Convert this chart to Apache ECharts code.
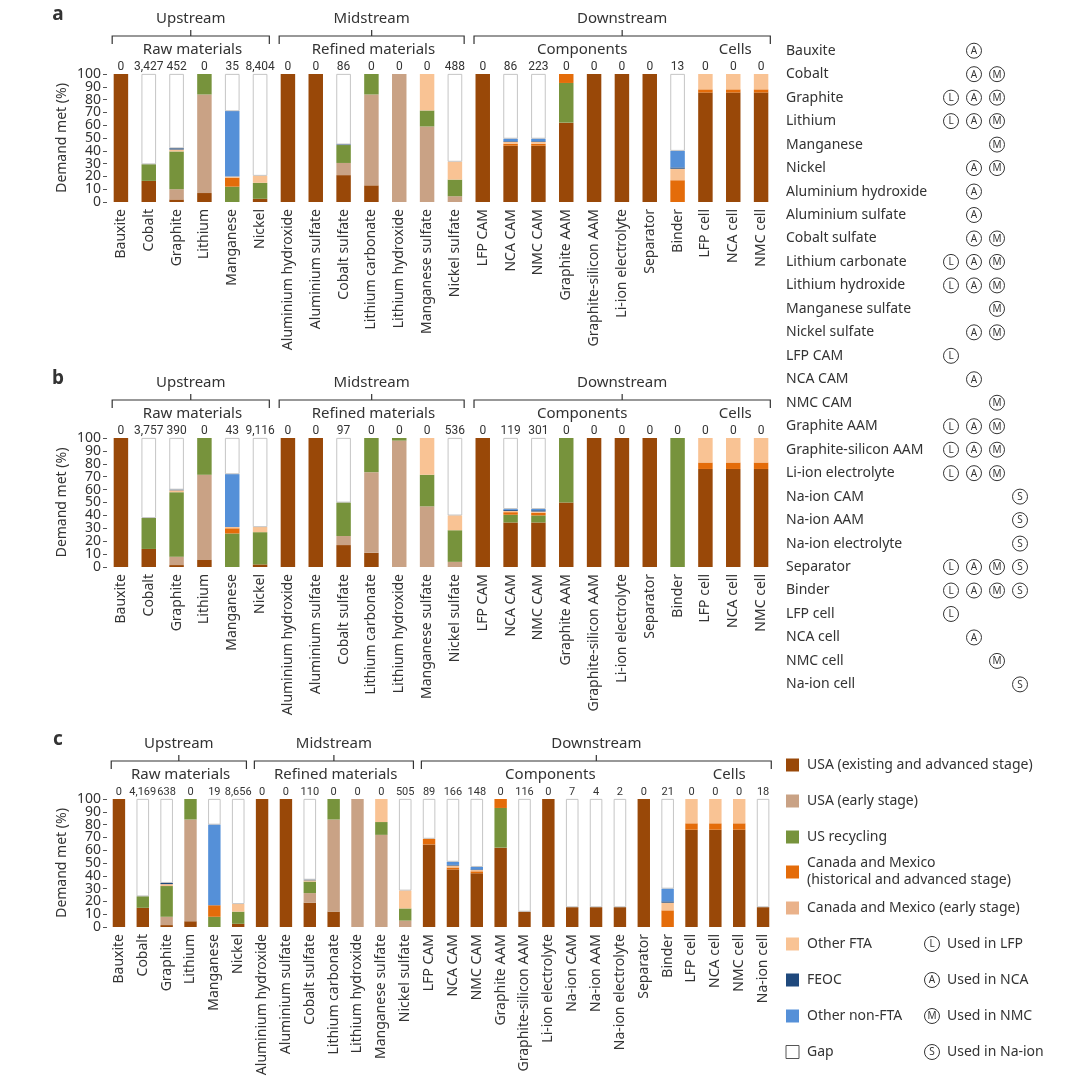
<!DOCTYPE html>
<html>
<head>
<meta charset="utf-8">
<script src="https://cdn.jsdelivr.net/npm/echarts@6/dist/echarts.min.js"></script>
<style>
  html, body { margin: 0; padding: 0; background: #fff; }
  #chart { width: 1080px; height: 1089px; }
</style>
</head>
<body>
<div id="chart"></div>
<script>
  // categories
  var catsAB = ['Bauxite', 'Cobalt', 'Graphite', 'Lithium', 'Manganese', 'Nickel',
    'Aluminium hydroxide', 'Aluminium sulfate', 'Cobalt sulfate', 'Lithium carbonate', 'Lithium hydroxide',
    'Manganese sulfate', 'Nickel sulfate', 'LFP CAM', 'NCA CAM', 'NMC CAM', 'Graphite AAM',
    'Graphite-silicon AAM', 'Li-ion electrolyte', 'Separator', 'Binder', 'LFP cell', 'NCA cell', 'NMC cell'];
  var catsC = ['Bauxite', 'Cobalt', 'Graphite', 'Lithium', 'Manganese', 'Nickel',
    'Aluminium hydroxide', 'Aluminium sulfate', 'Cobalt sulfate', 'Lithium carbonate', 'Lithium hydroxide',
    'Manganese sulfate', 'Nickel sulfate', 'LFP CAM', 'NCA CAM', 'NMC CAM', 'Graphite AAM',
    'Graphite-silicon AAM', 'Li-ion electrolyte', 'Na-ion CAM', 'Na-ion AAM', 'Na-ion electrolyte',
    'Separator', 'Binder', 'LFP cell', 'NCA cell', 'NMC cell', 'Na-ion cell'];
  var yTicks = [0, 10, 20, 30, 40, 50, 60, 70, 80, 90, 100];

  // gap counts above the bars
  var countsA = ['0', '3,427', '452', '0', '35', '8,404', '0', '0', '86', '0', '0', '0', '488', '0', '86', '223', '0', '0', '0', '0', '13', '0', '0', '0'];
  var countsB = ['0', '3,757', '390', '0', '43', '9,116', '0', '0', '97', '0', '0', '0', '536', '0', '119', '301', '0', '0', '0', '0', '0', '0', '0', '0'];
  var countsC = ['0', '4,169', '638', '0', '19', '8,656', '0', '0', '110', '0', '0', '0', '505', '89', '166', '148', '0', '116', '0', '7', '4', '2', '0', '21', '0', '0', '0', '18'];

  // panel a (% of demand met)
  var usaA       = [100, 16.5, 2, 7, 0, 2.5, 100, 100, 21, 13, 0, 0, 0, 100, 44, 44, 62, 100, 100, 100, 0, 85.5, 85.5, 85.5];
  var usaEarlyA  = [0, 0, 8, 77, 0, 0, 0, 0, 9.5, 71, 100, 59, 4.5, 0, 0, 0, 0, 0, 0, 0, 0, 0, 0, 0];
  var recycA     = [0, 13, 29.5, 16, 12, 12.5, 0, 0, 14, 16, 0, 12.5, 13, 0, 0, 0, 31, 0, 0, 0, 0, 0, 0, 0];
  var cmA        = [0, 0, 0, 0, 7, 0, 0, 0, 0, 0, 0, 0, 0, 0, 1.5, 1.5, 7, 0, 0, 0, 17, 2.5, 2.5, 2.5];
  var cmEarlyA   = [0, 0, 0, 0, 0, 0, 0, 0, 0, 0, 0, 0, 0, 0, 0, 0, 0, 0, 0, 0, 0, 0, 0, 0];
  var otherFtaA  = [0, 0, 1.5, 0, 1, 5.5, 0, 0, 0, 0, 0, 28.5, 14, 0, 1.5, 1.5, 0, 0, 0, 0, 9, 12, 12, 12];
  var feocA      = [0, 0, 1, 0, 0, 0, 0, 0, 0.5, 0, 0, 0, 0, 0, 0.5, 0.5, 0, 0, 0, 0, 1, 0, 0, 0];
  var nonFtaA    = [0, 0, 0, 0, 51, 0, 0, 0, 0, 0, 0, 0, 0, 0, 2, 2, 0, 0, 0, 0, 13, 0, 0, 0];
  var gapA       = [0, 70.5, 58, 0, 29, 79.5, 0, 0, 55, 0, 0, 0, 68.5, 0, 50.5, 50.5, 0, 0, 0, 0, 60, 0, 0, 0];

  // panel b
  var usaB       = [100, 14, 1.5, 5.5, 0, 2, 100, 100, 17, 11, 0, 0, 0, 100, 34.5, 34.5, 50, 100, 100, 100, 0, 76, 76, 76];
  var usaEarlyB  = [0, 0, 6.5, 66, 0, 0, 0, 0, 7, 62.5, 98, 47, 4, 0, 0, 0, 0, 0, 0, 0, 0, 0, 0, 0];
  var recycB     = [0, 24, 50, 28.5, 26, 25, 0, 0, 26, 26.5, 2, 24.5, 24.5, 0, 6, 5.5, 50, 0, 0, 0, 100, 0, 0, 0];
  var cmB        = [0, 0, 0, 0, 4, 0, 0, 0, 0, 0, 0, 0, 0, 0, 2, 2, 0, 0, 0, 0, 0, 5, 5, 5];
  var cmEarlyB   = [0, 0, 0, 0, 0, 0, 0, 0, 0, 0, 0, 0, 0, 0, 0, 0, 0, 0, 0, 0, 0, 0, 0, 0];
  var otherFtaB  = [0, 0, 1.5, 0, 1, 4, 0, 0, 0, 0, 0, 28.5, 11.5, 0, 1, 1, 0, 0, 0, 0, 0, 19, 19, 19];
  var feocB      = [0, 0, 0.5, 0, 0, 0, 0, 0, 0, 0, 0, 0, 0, 0, 0.8, 1, 0, 0, 0, 0, 0, 0, 0, 0];
  var nonFtaB    = [0, 0, 0, 0, 41, 0, 0, 0, 0, 0, 0, 0, 0, 0, 0.7, 1, 0, 0, 0, 0, 0, 0, 0, 0];
  var gapB       = [0, 62, 40, 0, 28, 69, 0, 0, 50, 0, 0, 0, 60, 0, 55, 55, 0, 0, 0, 0, 0, 0, 0, 0];

  // panel c
  var usaC       = [100, 15, 1.5, 4.5, 0, 2.5, 100, 100, 19, 12, 0, 0, 0, 64.5, 45, 42, 62, 12, 100, 15.5, 15.5, 15.5, 100, 0, 76, 76, 76, 15.5];
  var usaEarlyC  = [0, 0, 6.5, 79.5, 0, 0, 0, 0, 7.5, 72, 100, 72, 5, 0, 0, 0, 0, 0, 0, 0, 0, 0, 0, 0, 0, 0, 0, 0];
  var recycC     = [0, 9, 24, 16, 8, 9.5, 0, 0, 9, 16, 0, 10, 9.5, 0, 0, 0, 31, 0, 0, 0, 0, 0, 0, 0, 0, 0, 0, 0];
  var cmC        = [0, 0, 0, 0, 9, 0, 0, 0, 0, 0, 0, 0, 0, 4.5, 1.5, 1.5, 7, 0, 0, 0, 0, 0, 0, 13, 5, 5, 5, 0];
  var cmEarlyC   = [0, 0, 0, 0, 0, 0, 0, 0, 0, 0, 0, 0, 0, 0, 0, 0, 0, 0, 0, 0, 0, 0, 0, 0, 0, 0, 0, 0];
  var otherFtaC  = [0, 0, 1.5, 0, 0, 6, 0, 0, 1, 0, 0, 18, 14, 0, 1.5, 1, 0, 0, 0, 0, 0, 0, 0, 6, 19, 19, 19, 0];
  var feocC      = [0, 0, 1, 0, 0, 0, 0, 0, 0.5, 0, 0, 0, 0, 0, 0.5, 0.5, 0, 0, 0, 0, 0, 0, 0, 1, 0, 0, 0, 0];
  var nonFtaC    = [0, 0, 0, 0, 63, 0, 0, 0, 0, 0, 0, 0, 0, 0, 2.5, 2, 0, 0, 0, 0, 0, 0, 0, 10, 0, 0, 0, 0];
  var gapC       = [0, 76, 65.5, 0, 20, 82, 0, 0, 63, 0, 0, 0, 71.5, 31, 49, 53, 0, 88, 0, 84.5, 84.5, 84.5, 0, 70, 0, 0, 0, 84.5];

  var sourceNames = ['USA (existing and advanced stage)', 'USA (early stage)', 'US recycling',
    'Canada and Mexico\n(historical and advanced stage)', 'Canada and Mexico (early stage)',
    'Other FTA', 'FEOC', 'Other non-FTA', 'Gap'];
  var sourceColors = ['#994808', '#c9a285', '#77933c', '#e46c0a', '#eab28a', '#f9c394', '#1f497d', '#5590d8', '#ffffff'];

  // stage brackets: [name, first bar, last bar]
  var stagesAB = [['Upstream', 0, 5], ['Midstream', 6, 12], ['Downstream', 13, 23]];
  var subsAB = [['Raw materials', 0, 5], ['Refined materials', 6, 12], ['Components', 13, 20], ['Cells', 21, 23]];
  var stagesC = [['Upstream', 0, 5], ['Midstream', 6, 12], ['Downstream', 13, 27]];
  var subsC = [['Raw materials', 0, 5], ['Refined materials', 6, 12], ['Components', 13, 23], ['Cells', 24, 27]];

  // right-hand table: which chemistries use each item
  var tableUse = ['A', 'AM', 'LAM', 'LAM', 'M', 'AM', 'A', 'A', 'AM', 'LAM', 'LAM', 'M', 'AM', 'L', 'A', 'M',
    'LAM', 'LAM', 'LAM', 'S', 'S', 'S', 'LAMS', 'LAMS', 'L', 'A', 'M', 'S'];
  var useNames = ['Used in LFP', 'Used in NCA', 'Used in NMC', 'Used in Na-ion'];

  var FONT = '"Noto Sans", sans-serif';
  var TXT = '#333';

  var panels = [
    { label: 'a', top: 74, height: 128, cats: catsAB, counts: countsA, countSize: 12, stages: stagesAB, subs: subsAB,
      values: [usaA, usaEarlyA, recycA, cmA, cmEarlyA, otherFtaA, feocA, nonFtaA, gapA] },
    { label: 'b', top: 438, height: 129, cats: catsAB, counts: countsB, countSize: 12, stages: stagesAB, subs: subsAB,
      values: [usaB, usaEarlyB, recycB, cmB, cmEarlyB, otherFtaB, feocB, nonFtaB, gapB] },
    { label: 'c', top: 799, height: 128, cats: catsC, counts: countsC, countSize: 11, stages: stagesC, subs: subsC,
      values: [usaC, usaEarlyC, recycC, cmC, cmEarlyC, otherFtaC, feocC, nonFtaC, gapC] }
  ];

  var chart = echarts.init(document.getElementById('chart'));

  var grids = [], xAxes = [], yAxes = [], series = [];
  panels.forEach(function (p, i) {
    grids.push({ left: 107, width: 668, top: p.top, height: p.height });
    xAxes.push({
      type: 'category', gridIndex: i, data: p.cats,
      axisLine: { show: false }, axisTick: { show: false },
      axisLabel: { rotate: 90, interval: 0, fontSize: 14, color: TXT, fontFamily: FONT, margin: 7 }
    });
    xAxes.push({
      type: 'category', gridIndex: i, position: 'top', data: p.counts,
      axisLine: { show: false }, axisTick: { show: false },
      axisLabel: { interval: 0, fontSize: p.countSize, color: TXT, fontFamily: 'Roboto, sans-serif', margin: 1 }
    });
    yAxes.push({
      type: 'value', gridIndex: i, min: 0, max: 100, interval: 10,
      name: 'Demand met (%)', nameLocation: 'middle', nameGap: 38,
      nameTextStyle: { fontSize: 14, color: TXT, fontFamily: FONT },
      axisLine: { show: false }, splitLine: { show: false },
      axisTick: { show: true, length: 4, lineStyle: { color: '#555' } },
      axisLabel: { show: false }
    });
    p.values.forEach(function (vals, k) {
      var isGap = k === sourceNames.length - 1;
      series.push({
        type: 'bar', name: sourceNames[k], xAxisIndex: 2 * i, yAxisIndex: i, stack: 'p' + i,
        barWidth: '52%',
        itemStyle: { color: sourceColors[k], borderColor: isGap ? '#b8b8b8' : sourceColors[k], borderWidth: isGap ? 0.8 : 0 },
        data: vals.map(function (v) { return v > 0 ? v : null; })
      });
    });
  });

  chart.setOption({
    animation: false,
    grid: grids, xAxis: xAxes, yAxis: yAxes, series: series
  });

  // annotations
  function txt(x, y, s, align, size, weight) {
    return { type: 'text', silent: true, style: {
      x: x, y: y, text: s, fill: TXT, align: align || 'left', verticalAlign: 'middle',
      font: (weight || 'normal') + ' ' + size + 'px ' + FONT } };
  }
  function mark(x, y, ch) {
    return [
      { type: 'circle', silent: true, shape: { cx: x, cy: y, r: 7.5 }, style: { fill: 'none', stroke: '#333', lineWidth: 1 } },
      { type: 'text', silent: true, style: { x: x, y: y + 0.5, text: ch, fill: '#333', align: 'center', verticalAlign: 'middle', font: '10px ' + FONT } }
    ];
  }

  var g = [];
  panels.forEach(function (p, i) {
    var px = function (idx) { return chart.convertToPixel({ xAxisIndex: 2 * i }, p.cats[idx]); };
    var band = (px(p.cats.length - 1) - px(0)) / (p.cats.length - 1);
    var half = band * 0.26;
    g.push(txt(58, p.top - 59, p.label, 'center', 19, 'bold'));
    // y tick labels placed through the value axis
    yTicks.forEach(function (v) {
      g.push(txt(101, chart.convertToPixel({ yAxisIndex: i }, v), String(v), 'right', 14));
    });
    var by = p.top - 38;
    p.stages.forEach(function (s) {
      var l = px(s[1]) - half - 1.5, r = px(s[2]) + half + 2, m = (l + r) / 2;
      g.push({ type: 'polyline', silent: true, shape: { points: [[l, by + 8], [l, by], [r, by], [r, by + 8]] },
        style: { stroke: '#333', lineWidth: 1.2, fill: 'none' } });
      g.push({ type: 'line', silent: true, shape: { x1: m, y1: by, x2: m, y2: by - 6 }, style: { stroke: '#333', lineWidth: 1.2 } });
      g.push(txt(m, p.top - 55, s[0], 'center', 15));
    });
    p.subs.forEach(function (s) {
      g.push(txt((px(s[1]) + px(s[2])) / 2 + 2, p.top - 24, s[0], 'center', 15));
    });
  });

  // item / chemistry table
  var useX = { L: 951, A: 974, M: 997, S: 1020 };
  catsC.forEach(function (name, r) {
    var y = 50.7 + r * 23.47;
    g.push(txt(786, y, name, 'left', 14));
    tableUse[r].split('').forEach(function (ch) { g = g.concat(mark(useX[ch], y, ch)); });
  });

  // source legend
  var legY = [765, 801, 837, 872, 908, 944, 980, 1016, 1052];
  sourceNames.forEach(function (name, k) {
    g.push({ type: 'rect', silent: true, shape: { x: 786, y: legY[k] - 6.5, width: 13, height: 13 },
      style: { fill: sourceColors[k], stroke: k === 8 ? '#555' : null, lineWidth: 1 } });
    g.push({ type: 'text', silent: true, style: { x: 807, y: legY[k], text: name, fill: TXT, align: 'left', verticalAlign: 'middle',
      font: '14px ' + FONT, lineHeight: 17 } });
  });
  ['L', 'A', 'M', 'S'].forEach(function (ch, k) {
    g = g.concat(mark(932, legY[5 + k], ch));
    g.push(txt(947, legY[5 + k], useNames[k], 'left', 14));
  });

  chart.setOption({ graphic: g });
</script>
</body>
</html>
